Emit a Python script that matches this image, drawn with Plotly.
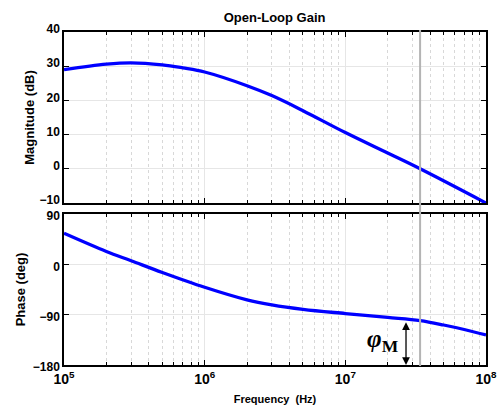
import plotly.graph_objects as go
import math

mag_freq = [1e5, 2e5, 3e5, 5e5, 7e5, 1e6, 2e6, 3e6, 5e6, 1e7, 2e7, 3.4e7, 1e8]
mag_db = [29.0, 30.6, 31.0, 30.4, 29.5, 28.3, 24.3, 21.4, 17.0, 10.6, 4.6, 0.0, -10.0]
phase_freq = [1e5, 2e5, 3e5, 5e5, 1e6, 2e6, 3e6, 5e6, 1e7, 2e7, 3.4e7, 5e7, 7e7, 1e8]
phase_deg = [55.5, 23, 6.5, -14.5, -41, -63.5, -72.5, -80.5, -88, -95, -100.7, -108.5, -116.5, -126.3]

crossover_freq = 3.4e7
xtick_vals = [1e5, 1e6, 1e7, 1e8]
xtick_text = ["10<sup>5</sup>", "10<sup>6</sup>", "10<sup>7</sup>", "10<sup>8</sup>"]
minor_xticks = [m * 10 ** d for d in (5, 6, 7) for m in range(2, 10)]
mag_ticks = [-10, 0, 10, 20, 30, 40]
phase_ticks = [-180, -90, 0, 90]

FONT = "Liberation Sans"
fig = go.Figure()
fig.add_trace(go.Scatter(x=mag_freq, y=mag_db, mode="lines", xaxis="x", yaxis="y",
                         line=dict(color="#0000FF", width=3.3, shape="spline", smoothing=1.0), showlegend=False))
fig.add_trace(go.Scatter(x=phase_freq, y=phase_deg, mode="lines", xaxis="x2", yaxis="y2",
                         line=dict(color="#0000FF", width=3.3, shape="spline", smoothing=1.0), showlegend=False))

minor = dict(tickvals=minor_xticks, ticks="inside", ticklen=3, tickcolor="black",
             showgrid=True, gridcolor="#d8d8d8", griddash="dot", gridwidth=1)
xcommon = dict(type="log", range=[5, 8], tickvals=xtick_vals, ticks="inside", ticklen=5, tickcolor="black",
               showline=True, linecolor="black", linewidth=1.5, mirror="ticks", automargin=False,
               showgrid=True, gridcolor="#e6e6e6", gridwidth=1, minor=minor, zeroline=False, domain=[0, 1])
ycommon = dict(ticks="inside", ticklen=5, tickcolor="black", showline=True, linecolor="black", linewidth=1.5,
               mirror="ticks", showgrid=True, gridcolor="#e6e6e6", gridwidth=1, zeroline=False, automargin=False,
               tickfont=dict(family=FONT, size=12, color="black", weight="bold"))

fig.update_layout(
    xaxis=dict(**xcommon, anchor="y", showticklabels=False),
    xaxis2=dict(**xcommon, anchor="y2", ticktext=xtick_text, showticklabels=True,
                tickfont=dict(family=FONT, size=14, color="black", weight="bold"),
                title=dict(text="Frequency  (Hz)", font=dict(family=FONT, size=11, color="black", weight="bold"),
                           standoff=10)),
    yaxis=dict(**ycommon, anchor="x", domain=[0.4865, 1], range=[-10, 40], tickvals=mag_ticks,
               ticklabelshift=-3,
               title=dict(text="Magnitude (dB)", font=dict(family=FONT, size=13, color="black", weight="bold"),
                          standoff=2)),
    yaxis2=dict(**ycommon, anchor="x2", domain=[0, 0.4535], range=[-180, 90], tickvals=phase_ticks,
                ticklabelshift=2,
                title=dict(text="Phase (deg)", font=dict(family=FONT, size=13, color="black", weight="bold"),
                           standoff=4)),
)

# crossover vertical line spanning both plots
fig.add_shape(type="line", xref="x", yref="paper", x0=crossover_freq, x1=crossover_freq, y0=-0.003, y1=1.006,
              line=dict(color="#b4b4b4", width=2), layer="above")

# phase margin arrow
arrow_x = math.log10(2.7e7)
fig.add_annotation(xref="x2", yref="y2", x=arrow_x, y=-180, ax=arrow_x, ay=-101, axref="x2", ayref="y2",
                   showarrow=True, arrowhead=2, arrowside="end+start", arrowsize=1.2, arrowwidth=1.3,
                   arrowcolor="black", text="")
fig.add_annotation(xref="x2", yref="y2", x=math.log10(1.85e7), y=-137, showarrow=False,
                   text="<i>φ</i><sub>M</sub>",
                   font=dict(family="Liberation Serif", size=25, color="black", weight="bold"))

fig.update_layout(
    width=502, height=409,
    margin=dict(l=64, r=16, t=32, b=44),
    paper_bgcolor="white", plot_bgcolor="white",
    title=dict(text="Open-Loop Gain", x=0.547, xanchor="center", y=0.958, yanchor="middle",
               font=dict(family=FONT, size=13, color="black", weight="bold")),
)

fig.write_html("out.html")
